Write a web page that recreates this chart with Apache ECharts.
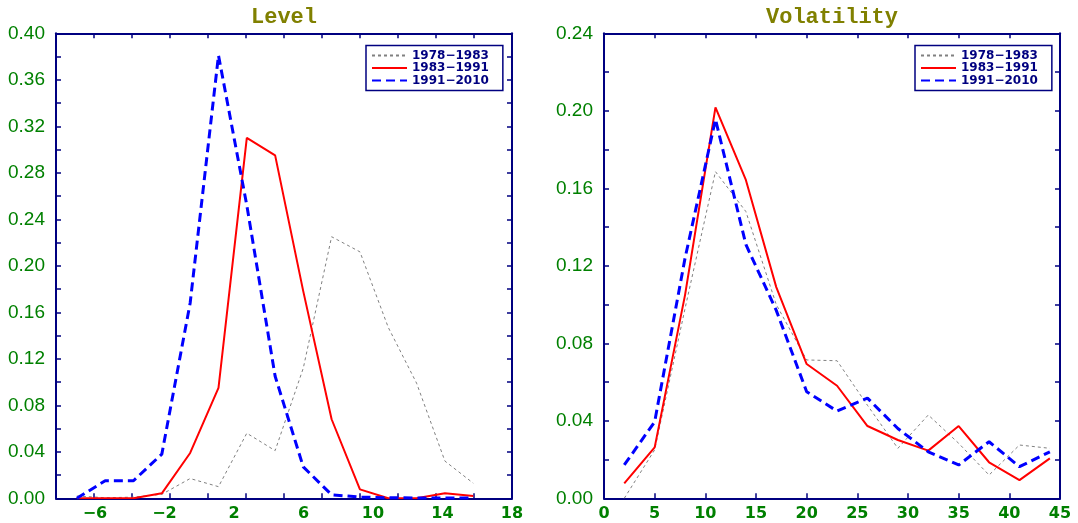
<!DOCTYPE html>
<html>
<head>
<meta charset="utf-8">
<script src="https://cdn.jsdelivr.net/npm/echarts@6/dist/echarts.min.js"></script>
<style>html,body{margin:0;padding:0;background:#fff;}#c{width:1078px;height:523px;}</style>
</head>
<body>
<div id="c"></div>
<script>
// ---- data ----
const seriesNames = ['1978\u22121983', '1983\u22121991', '1991\u22122010'];

const levelX = [-7.04, -5.41, -3.78, -2.15, -0.52, 1.11, 2.74, 4.37, 5.99, 7.62, 9.25, 10.88, 12.51, 14.14, 15.77];
const level7883 = [0.002, 0.0005, 0.001, 0.0034, 0.017, 0.010, 0.056, 0.041, 0.112, 0.225, 0.212, 0.147, 0.099, 0.032, 0.013];
const level8391 = [0, 0, 0, 0.0043, 0.039, 0.095, 0.310, 0.295, 0.178, 0.068, 0.0077, 0, 0, 0.0043, 0.002];
const level9110 = [0, 0.0151, 0.0151, 0.038, 0.168, 0.381, 0.252, 0.105, 0.027, 0.003, 0.001, 0.0005, 0.0003, 0.0002, 0.0002];
const levelTickLabels = [-6, -2, 2, 6, 10, 14, 18];

const volX = [2, 5, 8, 11, 14, 17, 20, 23, 26, 29, 32, 35, 38, 41, 44];
const vol7883 = [0.000, 0.025, 0.098, 0.1686, 0.148, 0.100, 0.0714, 0.071, 0.048, 0.0258, 0.043, 0.0284, 0.012, 0.0275, 0.0258];
const vol8391 = [0.0077, 0.0263, 0.105, 0.2018, 0.1643, 0.109, 0.0693, 0.0581, 0.0373, 0.0301, 0.0246, 0.0373, 0.0186, 0.0094, 0.0206];
const vol9110 = [0.0172, 0.0395, 0.124, 0.1956, 0.131, 0.097, 0.055, 0.045, 0.0517, 0.036, 0.024, 0.0172, 0.0292, 0.0163, 0.024];

// ---- styles ----
const NAVY = '#000080', GREEN = '#008000', OLIVE = '#808000';
const levelMin = -8.24, levelMax = 18;
const levelTicks = Array.from({length: 11}, (_, k) => levelMin + (k + 1) * (levelMax - levelMin) / 12);

const pair = (xs, ys) => xs.map((x, i) => [x, ys[i]]);
const minusFmt = v => (v < 0 ? '\u2212' + (-v) : String(v));
const yFmt = v => (Math.round(v * 100) % 4 === 0 ? v.toFixed(2) : '');

const lineStyles = [
  {color: '#808080', width: 1, type: [3, 3]},
  {color: '#ff0000', width: 2, type: 'solid'},
  {color: '#0000ff', width: 3, type: [9, 5]}
];

function axisLine() { return {show: true, onZero: false, lineStyle: {color: NAVY, width: 2}}; }
function tick(extra) { return Object.assign({show: true, inside: true, length: 5, lineStyle: {color: NAVY, width: 1.5}}, extra || {}); }

const xLabelStyle = {color: GREEN, fontFamily: 'DejaVu Sans', fontWeight: 'bold', fontSize: 16, margin: 8};
const yLabelStyle = {color: GREEN, fontFamily: 'Liberation Sans', fontSize: 19, margin: 11, formatter: yFmt};

function legend(left) {
  return {
    left: left, top: 45.5, orient: 'vertical', selectedMode: false,
    itemWidth: 35, itemHeight: 11, itemGap: 0.5,
    padding: [4, 14, 4, 5],
    borderColor: NAVY, borderWidth: 1.5,
    itemStyle: {opacity: 0},
    textStyle: {color: NAVY, fontFamily: 'DejaVu Sans', fontWeight: 'bold', fontSize: 12, lineHeight: 11},
    data: seriesNames
  };
}

function makeSeries(xIdx, yIdx, xs, arrs) {
  return arrs.map((ys, i) => ({
    name: seriesNames[i], type: 'line', xAxisIndex: xIdx, yAxisIndex: yIdx,
    data: pair(xs, ys), symbol: 'none', lineStyle: lineStyles[i], itemStyle: {color: lineStyles[i].color},
    silent: true
  }));
}

const titleStyle = {color: OLIVE, fontFamily: 'Liberation Mono', fontWeight: 'bold', fontSize: 22};

const option = {
  animation: false,
  backgroundColor: '#fff',
  title: [
    {text: 'Level', left: 284, top: 6, textAlign: 'center', padding: 0, textStyle: titleStyle},
    {text: 'Volatility', left: 832, top: 6, textAlign: 'center', padding: 0, textStyle: titleStyle}
  ],
  legend: [legend(366), legend(915)],
  grid: [
    {left: 56, right: 566, top: 33.3, bottom: 24.7},
    {left: 604, right: 18, top: 33.3, bottom: 24.7}
  ],
  xAxis: [
    {type: 'value', gridIndex: 0, position: 'bottom', min: levelMin, max: levelMax,
      axisLine: axisLine(), axisTick: tick({customValues: levelTicks}),
      axisLabel: Object.assign({customValues: levelTickLabels, formatter: minusFmt}, xLabelStyle),
      splitLine: {show: false}},
    {type: 'value', gridIndex: 0, position: 'top', min: levelMin, max: levelMax,
      axisLine: axisLine(), axisTick: tick({customValues: levelTicks}),
      axisLabel: {show: false}, splitLine: {show: false}},
    {type: 'value', gridIndex: 1, position: 'bottom', min: 0, max: 45, interval: 5,
      axisLine: axisLine(), axisTick: tick(),
      axisLabel: Object.assign({}, xLabelStyle), splitLine: {show: false}},
    {type: 'value', gridIndex: 1, position: 'top', min: 0, max: 45, interval: 5,
      axisLine: axisLine(), axisTick: tick(),
      axisLabel: {show: false}, splitLine: {show: false}}
  ],
  yAxis: [
    {type: 'value', gridIndex: 0, position: 'left', min: 0, max: 0.4, interval: 0.02,
      axisLine: axisLine(), axisTick: tick(), axisLabel: Object.assign({}, yLabelStyle), splitLine: {show: false}},
    {type: 'value', gridIndex: 0, position: 'right', min: 0, max: 0.4, interval: 0.02,
      axisLine: axisLine(), axisTick: tick(), axisLabel: {show: false}, splitLine: {show: false}},
    {type: 'value', gridIndex: 1, position: 'left', min: 0, max: 0.24, interval: 0.02,
      axisLine: axisLine(), axisTick: tick(), axisLabel: Object.assign({}, yLabelStyle), splitLine: {show: false}},
    {type: 'value', gridIndex: 1, position: 'right', min: 0, max: 0.24, interval: 0.02,
      axisLine: axisLine(), axisTick: tick(), axisLabel: {show: false}, splitLine: {show: false}}
  ],
  series: [].concat(
    makeSeries(0, 0, levelX, [level7883, level8391, level9110]),
    makeSeries(2, 2, volX, [vol7883, vol8391, vol9110])
  )
};

const chart = echarts.init(document.getElementById('c'), null, {renderer: 'canvas'});
chart.setOption(option);
</script>
</body>
</html>
